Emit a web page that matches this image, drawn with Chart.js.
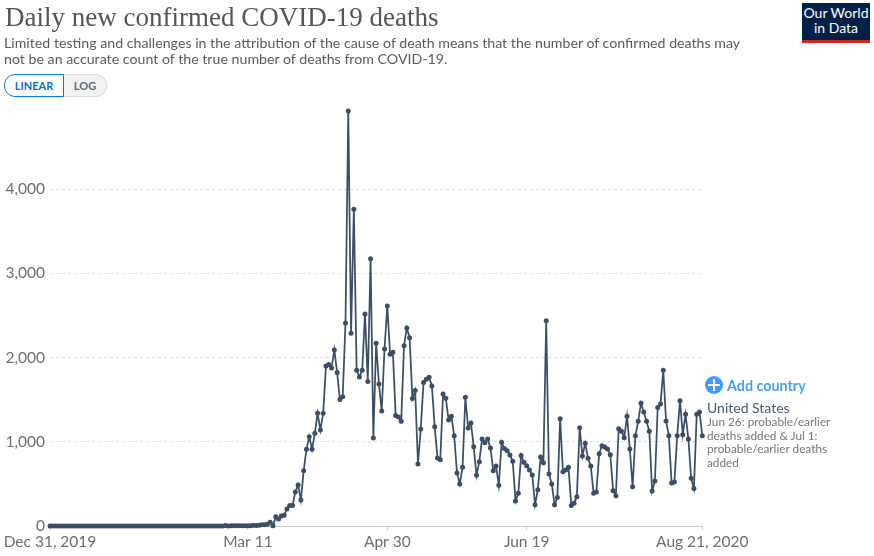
<!DOCTYPE html>
<html>
<head>
<meta charset="utf-8">
<title>Daily new confirmed COVID-19 deaths</title>
<script src="https://cdn.jsdelivr.net/npm/chart.js@4"></script>
<style>
	html, body { margin: 0; padding: 0; background: #fff; }
	body { width: 874px; height: 556px; position: relative; overflow: hidden; font-family: Lato, sans-serif; }
	#grafico { position: absolute; left: 0; top: 0; }
	.abs { position: absolute; white-space: nowrap; }
	#titulo { left: 5px; top: 0; font: 27px/34px "Liberation Serif", serif; color: #555; }
	#subtitulo { left: 4px; top: 35px; font-size: 14.2px; line-height: 16px; color: #5b5b5b; }
	#linear { left: 4px; top: 74px; width: 58px; height: 21px; border: 1px solid #0a7be0; border-radius: 11px 0 0 11px; background: #fff; color: #0a6fd0; font-size: 11px; font-weight: 700; line-height: 21px; text-align: center; }
	#log { left: 64px; top: 74px; width: 42px; height: 21px; border: 1px solid #ddd; border-left: 0; border-radius: 0 11px 11px 0; background: #f2f2f2; color: #5b6b82; font-size: 11px; font-weight: 700; line-height: 21px; text-align: center; }
	#logo { left: 802px; top: 3px; width: 68px; height: 35px; padding-top: 2px; background: #002147; border-bottom: 3px solid #ce261e; color: #fff; font-size: 14px; line-height: 15px; text-align: center; }
	#plus { left: 705px; top: 376px; width: 18px; height: 18px; border-radius: 50%; background: #3f9bff; }
	#plus:before { content: ""; position: absolute; left: 3px; top: 8px; width: 12px; height: 2px; background: #fff; }
	#plus:after { content: ""; position: absolute; left: 8px; top: 3px; width: 2px; height: 12px; background: #fff; }
	#agregar { left: 727px; top: 377px; font-size: 14.3px; font-weight: 700; line-height: 18px; color: #4aa0f5; }
	#pais { left: 707px; top: 400px; font-size: 14px; line-height: 16px; color: #4a5a72; }
	#nota { left: 707px; top: 415px; font-size: 11.8px; line-height: 13.5px; color: #777; }
</style>
</head>
<body>
<canvas id="grafico" width="874" height="556" style="width:874px;height:556px"></canvas>
<div class="abs" id="titulo">Daily new confirmed COVID-19 deaths</div>
<div class="abs" id="subtitulo">Limited testing and challenges in the attribution of the cause of death means that the number of confirmed deaths may<br>not be an accurate count of the true number of deaths from COVID-19.</div>
<div class="abs" id="linear">LINEAR</div>
<div class="abs" id="log">LOG</div>
<div class="abs" id="logo">Our World<br>in Data</div>
<div class="abs" id="plus"></div>
<div class="abs" id="agregar">Add country</div>
<div class="abs" id="pais">United States</div>
<div class="abs" id="nota">Jun 26: probable/earlier<br>deaths added &amp; Jul 1:<br>probable/earlier deaths<br>added</div>

<script>
//Etiquetas de los ejes
const diasEje = [0, 71, 121, 171, 234];
const etiquetasEje = ["Dec 31, 2019", "Mar 11", "Apr 30", "Jun 19", "Aug 21, 2020"];
const valoresEje = [0, 1000, 2000, 3000, 4000];

//Muertes diarias, un valor por dia desde Dec 31, 2019
const muertesDiarias = [
	0, 0, 0, 0, 0, 0, 0, 0, 0, 0,
	0, 0, 0, 0, 0, 0, 0, 0, 0, 0,
	0, 0, 0, 0, 0, 0, 0, 0, 0, 0,
	0, 0, 0, 0, 0, 0, 0, 0, 0, 0,
	0, 0, 0, 0, 0, 0, 0, 0, 0, 0,
	0, 0, 0, 0, 0, 0, 0, 0, 0, 0,
	1, 0, 1, 5, 1, 2, 2, 3, 4, 2,
	4, 4, 4, 8, 7, 10, 16, 16, 20, 44,
	4, 111, 83, 119, 127, 202, 242, 242, 404, 487,
	309, 657, 911, 1061, 911, 1101, 1338, 1140, 1338, 1901,
	1917, 1877, 2091, 1822, 1501, 1536, 2412, 4929, 2289, 3761,
	1849, 1770, 1849, 2519, 1715, 3175, 1045, 2170, 1687, 1366,
	2103, 2614, 2039, 2063, 1311, 1295, 1243, 2142, 2352, 2237,
	1513, 1608, 736, 1152, 1703, 1742, 1766, 1663, 1180, 808,
	788, 1568, 1517, 1259, 1303, 1073, 630, 499, 697, 1529,
	1164, 1224, 942, 602, 764, 1034, 990, 1034, 927, 657,
	713, 483, 994, 919, 895, 843, 768, 297, 388, 836,
	756, 717, 665, 606, 253, 432, 820, 752, 2439, 618,
	499, 253, 337, 1275, 645, 665, 697, 242, 269, 348,
	1168, 832, 982, 804, 713, 388, 404, 859, 954, 939,
	915, 847, 420, 360, 1156, 1125, 1049, 1303, 915, 467,
	1073, 1243, 1457, 1354, 1243, 1125, 416, 535, 1406, 1449,
	1849, 1247, 1073, 511, 523, 1073, 1489, 1085, 1327, 1034,
	566, 444, 1327, 1354, 1073
];

new Chart(document.getElementById("grafico"), {
	type: "line",
	data: {
		datasets: [{
			label: "United States",
			data: muertesDiarias.map((valor, dia) => ({ x: dia, y: valor })),
			borderColor: "#3c4e66",
			backgroundColor: "#3c4e66",
			borderWidth: 1.75,
			pointRadius: 2.5,
			pointBorderWidth: 0,
			tension: 0,
			clip: false
		}]
	},
	options: {
		responsive: false,
		animation: false,
		layout: { padding: { left: 0, top: 105, right: 171.7, bottom: 0 } },
		plugins: { legend: { display: false }, tooltip: { enabled: false } },
		scales: {
			x: {
				type: "linear",
				min: 0,
				max: 234,
				afterBuildTicks: escala => { escala.ticks = diasEje.map(d => ({ value: d })); },
				afterFit: escala => { escala.height = 30; },
				border: { color: "#ccc" },
				grid: { drawOnChartArea: false, color: "#ccc", tickLength: 4 },
				ticks: {
					autoSkip: false,
					maxRotation: 0,
					padding: 3,
					color: "#6e6e6e",
					font: { family: "Lato", size: 15.5 },
					callback: valor => etiquetasEje[diasEje.indexOf(valor)]
				}
			},
			y: {
				min: 0,
				max: 5000,
				afterBuildTicks: escala => { escala.ticks = valoresEje.map(v => ({ value: v })); },
				afterFit: escala => { escala.width = 50; },
				border: { display: false, dash: [3, 3] },
				grid: {
					drawTicks: false,
					color: ctx => ctx.tick.value === 0 ? "transparent" : "#ddd"
				},
				ticks: {
					padding: 5,
					color: "#6e6e6e",
					font: { family: "Lato", size: 15.5 },
					callback: valor => valor.toLocaleString("en-US")
				}
			}
		}
	}
});
</script>
</body>
</html>
